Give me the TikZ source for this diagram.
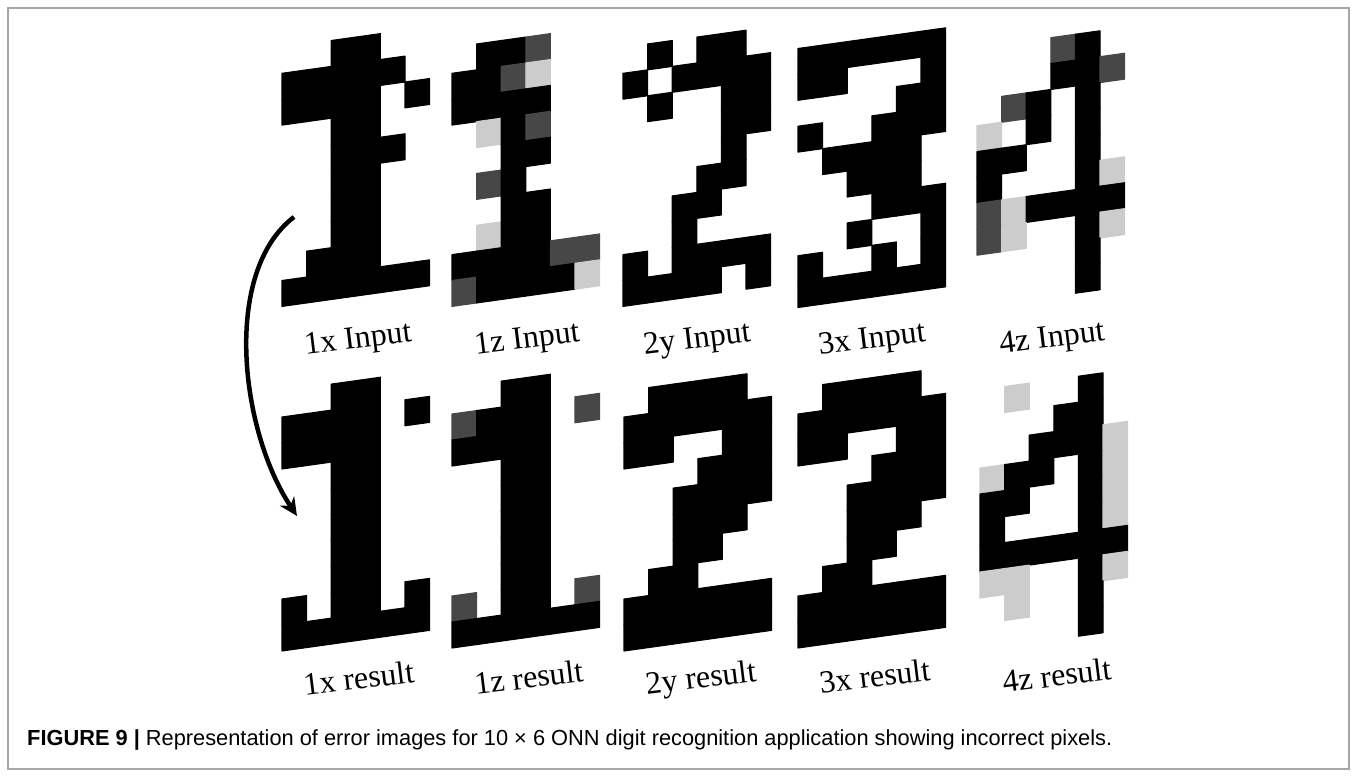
\documentclass[tikz,border=0pt]{standalone}
\usepackage{fontspec}
\setmainfont{Liberation Serif}
\newfontfamily\capfont{Liberation Sans}
\usetikzlibrary{arrows.meta}
\definecolor{dg}{gray}{0.28}
\definecolor{lg}{gray}{0.80}
\definecolor{framegray}{gray}{0.65}
\tikzset{
  pix/.style={fill=#1,draw=#1,line width=1.1pt,line join=round},
  digitlabel/.style={font=\fontsize{32}{36}\selectfont, rotate=7, anchor=base, inner sep=0pt},
  captionstyle/.style={font=\capfont\fontsize{21.8}{26}\selectfont, anchor=base west, inner sep=0pt},
  arrowline/.style={line width=4.5pt, -{Stealth[length=18pt,width=17pt]}},
  frameline/.style={draw=framegray, line width=1.2pt}
}
% #1 left x, #2 top y at left edge, #3 row height, #4 rows
\newcommand\pixgrid[4]{%
  \foreach \rowdata [count=\r from 0] in {#4} {
    \foreach \v [count=\c from 0] in \rowdata {
      \ifnum\v>0
        \ifcase\v\or\def\pc{black}\or\def\pc{dg}\or\def\pc{lg}\fi
        \fill[pix=\pc] ({#1+\c*24.6},{#2+\r*#3-0.14*\c*24.6}) -- ++(24.6,-3.444) -- ++(0,#3) -- ++(-24.6,3.444) -- cycle;
      \fi
    }
  }%
}
\begin{document}
\begin{tikzpicture}[x=1pt,y=-1pt]
\useasboundingbox (0,0) rectangle (1357,777);
\fill[white] (0,0) rectangle (1357,777);
\draw[frameline] (8,8) rectangle (1349,769);

% ---- input row ----
\pixgrid{282}{47.4}{25.9}{{0,0,1,1,0,0},{1,1,1,1,1,0},{1,1,1,1,0,1},{0,0,1,1,0,0},{0,0,1,1,1,0},{0,0,1,1,0,0},{0,0,1,1,0,0},{0,0,1,1,0,0},{0,1,1,1,0,0},{1,1,1,1,1,1}}
\pixgrid{452}{47.4}{25.9}{{0,1,1,2,0,0},{1,1,2,3,0,0},{1,1,1,1,0,0},{0,3,1,2,0,0},{0,0,1,1,0,0},{0,2,1,0,0,0},{0,0,1,1,0,0},{0,3,1,1,0,0},{1,1,1,1,2,2},{2,1,1,1,1,3}}
\pixgrid{623}{47.4}{25.9}{{0,1,0,1,1,0},{1,0,1,1,1,1},{0,1,0,0,1,1},{0,0,0,0,1,1},{0,0,0,0,1,0},{0,0,0,1,1,0},{0,0,1,1,0,0},{0,0,1,0,0,0},{1,0,1,1,1,1},{1,1,1,1,0,1}}
\pixgrid{798}{48.5}{25.9}{{1,1,1,1,1,1},{1,1,0,0,0,1},{0,0,0,0,1,1},{1,0,0,1,1,1},{0,1,1,1,1,0},{0,0,1,1,1,0},{0,0,0,1,1,1},{0,0,1,0,0,1},{1,0,0,1,0,1},{1,1,1,1,1,1}}
\pixgrid{977}{48}{25.9}{{0,0,0,2,1,0},{0,0,0,1,1,2},{0,2,1,0,1,0},{3,0,1,0,1,0},{1,1,0,0,1,0},{1,0,0,0,1,3},{2,3,1,1,1,1},{2,3,0,0,1,3},{0,0,0,0,1,0},{0,0,0,0,1,0}}

% ---- result row ----
\pixgrid{282}{391}{26}{{0,0,1,1,0,0},{1,1,1,1,0,1},{1,1,1,1,0,0},{0,0,1,1,0,0},{0,0,1,1,0,0},{0,0,1,1,0,0},{0,0,1,1,0,0},{0,0,1,1,0,0},{1,0,1,1,0,1},{1,1,1,1,1,1}}
\pixgrid{452}{388}{26}{{0,0,1,1,0,0},{2,1,1,1,0,2},{1,1,1,1,0,0},{0,0,1,1,0,0},{0,0,1,1,0,0},{0,0,1,1,0,0},{0,0,1,1,0,0},{0,0,1,1,0,0},{2,0,1,1,0,2},{1,1,1,1,1,1}}
\pixgrid{624}{391}{26}{{0,1,1,1,1,0},{1,1,1,1,1,1},{1,1,0,0,1,1},{0,0,0,1,1,1},{0,0,1,1,1,1},{0,0,1,1,1,0},{0,0,1,1,0,0},{0,1,1,0,0,0},{1,1,1,1,1,1},{1,1,1,1,1,1}}
\pixgrid{798}{388}{26}{{0,1,1,1,1,0},{1,1,1,1,1,1},{1,1,0,0,1,1},{0,0,0,1,1,1},{0,0,1,1,1,1},{0,0,1,1,1,0},{0,0,1,1,0,0},{0,1,1,0,0,0},{1,1,1,1,1,1},{1,1,1,1,1,1}}
\pixgrid{980}{390}{26}{{0,3,0,0,1,0},{0,0,0,1,1,0},{0,0,1,1,1,3},{3,1,1,0,1,3},{1,1,0,0,1,3},{1,0,0,0,1,3},{1,1,1,1,1,1},{3,3,0,0,1,3},{0,3,0,0,1,0},{0,0,0,0,1,0}}

% ---- labels ----
\node[digitlabel] (in1) at (359,348) {1x Input};
\node[digitlabel] (in2) at (528,348) {1z Input};
\node[digitlabel] (in3) at (698,348) {2y Input};
\node[digitlabel] (in4) at (873,348) {3x Input};
\node[digitlabel] (in5) at (1053,347) {4z Input};
\node[digitlabel] (re1) at (360,689) {1x result};
\node[digitlabel] (re2) at (530,688) {1z result};
\node[digitlabel] (re3) at (702,688) {2y result};
\node[digitlabel] (re4) at (876,687) {3x result};
\node[digitlabel] (re5) at (1058,686) {4z result};

% ---- arrow ----
\coordinate (arrs) at (294,217);
\coordinate (arre) at (297,516);
\draw[arrowline] (arrs) .. controls (222,272) and (240,430) .. (arre);

% ---- caption ----
\node[captionstyle] (cap) at (27,745) {{\bfseries FIGURE 9 |} Representation of error images for 10 × 6 ONN digit recognition application showing incorrect pixels.};
\end{tikzpicture}
\end{document}
